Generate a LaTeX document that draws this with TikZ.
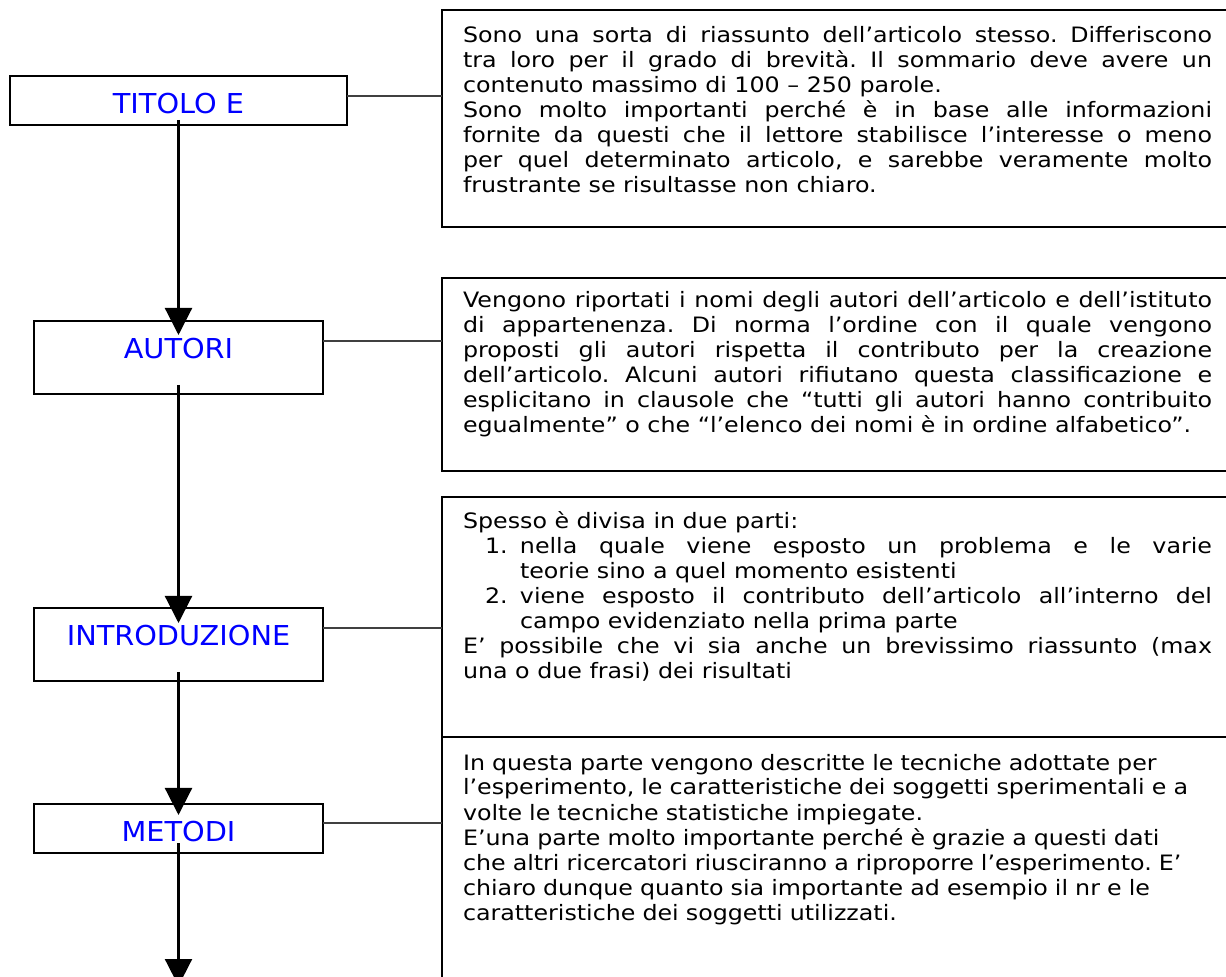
\documentclass[tikz,border=0pt]{standalone}
\usepackage{fontspec}
\setmainfont{DejaVu Sans}
\newfontfamily\bodyfont{DejaVu Sans}[FakeStretch=1.12]
\newfontfamily\headfont{DejaVu Sans}[FakeStretch=1.05]
\usetikzlibrary{arrows.meta, positioning}
\frenchspacing

\begin{document}
\begin{tikzpicture}[
    x=0.5pt, y=-0.5pt,
    sect/.style={rectangle, draw=black, line width=1pt, fill=white,
                 text width=#1, inner sep=0pt, outer sep=0pt, align=center,
                 text height=18.75pt, text=blue,
                 font=\headfont\fontsize{13.7}{16}\selectfont},
    sect/.default=144.5pt,
    sect box/.style={rectangle, draw=black, line width=1pt, fill=white,
                     text width=374.5pt, inner xsep=10.5pt, inner ysep=0pt,
                     outer sep=0pt, align=justify, anchor=north west,
                     text height=15.5pt,
                     font=\bodyfont\fontsize{10.6}{12.5}\selectfont},
    flow/.style={-{Triangle[width=13.5pt, length=13.5pt]}, line width=1.1pt},
    link/.style={black!75, line width=0.7pt}
]
\useasboundingbox (0,0) rectangle (1226,977);
\fill[white] (0,0) rectangle (1226,977);
\clip (0,0) rectangle (1226,977);

% Define sections
\node[sect=168.5pt, anchor=north, text depth=5.75pt] (titolo) at (178.5,76) {TITOLO E};
\node[sect, below=98pt of titolo, text depth=17.75pt] (autori) {AUTORI};
\node[sect, below=107pt of autori, text depth=17.75pt] (introduzione) {INTRODUZIONE};
\node[sect, below=61.5pt of introduzione, text depth=5.75pt] (metodi) {METODI};
\coordinate (seguito) at (178.5,986);

% Section contents
\node[sect box, text height=16.5pt, text depth=92pt] (titoloDesc) at (442,10) {%
Sono una sorta di riassunto dell’articolo stesso. Differiscono\linebreak
tra loro per il grado di brevità. Il sommario deve avere un\linebreak
contenuto massimo di 100 – 250 parole.\par
Sono molto importanti perché è in base alle informazioni\linebreak
fornite da questi che il lettore stabilisce l’interesse o meno\linebreak
per quel determinato articolo, e sarebbe veramente molto\linebreak
frustrante se risultasse non chiaro.};

\node[sect box, text height=15pt, text depth=81.5pt] (autoriDesc) at (442,278) {%
Vengono riportati i nomi degli autori dell’articolo e dell’istituto\linebreak
di appartenenza. Di norma l’ordine con il quale vengono\linebreak
proposti gli autori rispetta il contributo per la creazione\linebreak
dell’articolo. Alcuni autori rifiutano questa classificazione e\linebreak
esplicitano in clausole che “tutti gli autori hanno contribuito\linebreak
egualmente” o che “l’elenco dei nomi è in ordine alfabetico”.};

\node[sect box, text height=16pt, text depth=104pt] (introduzioneDesc) at (442,497) {%
Spesso è divisa in due parti:\par
\hangindent=28.5pt\hangafter=1\hspace*{11pt}\makebox[17.5pt][l]{1.}nella quale viene esposto un problema e le varie\linebreak
teorie sino a quel momento esistenti\par
\hangindent=28.5pt\hangafter=1\hspace*{11pt}\makebox[17.5pt][l]{2.}viene esposto il contributo dell’articolo all’interno del\linebreak
campo evidenziato nella prima parte\par
E’ possibile che vi sia anche un brevissimo riassunto (max\linebreak
una o due frasi) dei risultati};

\node[sect box, align=left, text height=16.5pt, text depth=130pt] (metodiDesc) at (442,737) {%
In questa parte vengono descritte le tecniche adottate per\\
l’esperimento, le caratteristiche dei soggetti sperimentali e a\\
volte le tecniche statistiche impiegate.\\
E’una parte molto importante perché è grazie a questi dati\\
che altri ricercatori riusciranno a riproporre l’esperimento. E’\\
chiaro dunque quanto sia importante ad esempio il nr e le\\
caratteristiche dei soggetti utilizzati.};

% Relations
\draw[link] ([yshift=-10pt]titolo.north east) -- ([yshift=-10pt]titolo.north east -| titoloDesc.west);
\draw[link] ([yshift=-10pt]autori.north east) -- ([yshift=-10pt]autori.north east -| autoriDesc.west);
\draw[link] ([yshift=-10pt]introduzione.north east) -- ([yshift=-10pt]introduzione.north east -| introduzioneDesc.west);
\draw[link] ([yshift=-9.5pt]metodi.north east) -- ([yshift=-9.5pt]metodi.north east -| metodiDesc.west);

\draw[flow] ([yshift=2.5pt]titolo.south) -- ([yshift=-7pt]autori.north);
\draw[flow] ([yshift=4.5pt]autori.south) -- ([yshift=-7.5pt]introduzione.north);
\draw[flow] ([yshift=4.5pt]introduzione.south) -- ([yshift=-5.5pt]metodi.north);
\draw[flow] ([yshift=5pt]metodi.south) -- (seguito);

\end{tikzpicture}
\end{document}
